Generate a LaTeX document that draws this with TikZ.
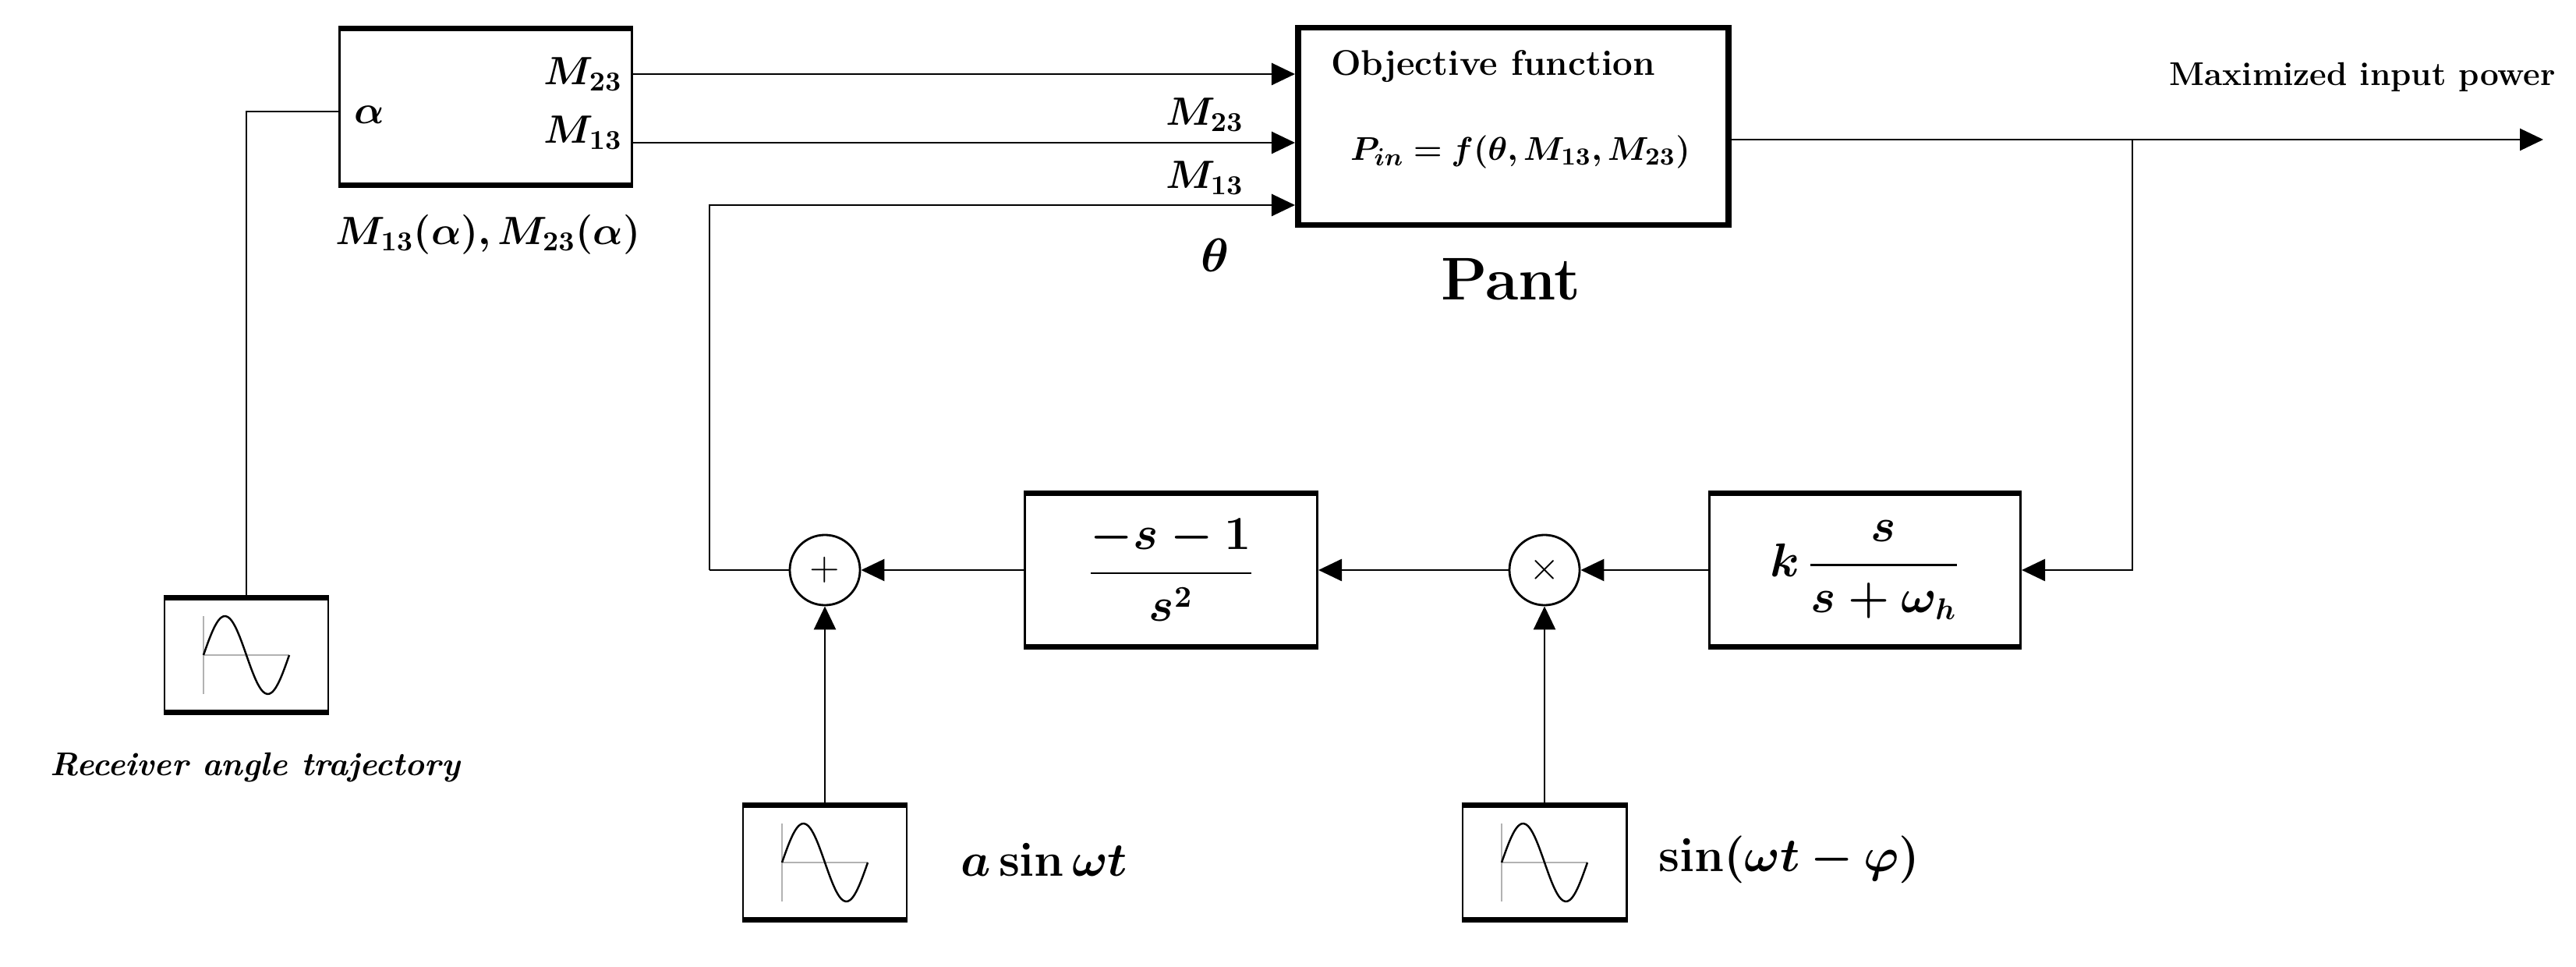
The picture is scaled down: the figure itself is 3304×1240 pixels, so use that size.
\documentclass[tikz,border=0pt]{standalone}
\usepackage{amsmath,bm}
\usetikzlibrary{arrows.meta,calc}
\begin{document}
\begin{tikzpicture}[x=0.01cm,y=-0.01cm,
 sum/.style={circle,draw,line width=0.8pt,minimum size=0.9cm,inner sep=0pt},
 sig/.style={line width=0.8pt},
 arr/.style={sig,-{Triangle[length=0.3cm,width=0.28cm]}},
 lbl/.style={font=\fontsize{14}{16}\selectfont\bfseries},
]
\useasboundingbox (0,0) rectangle (3304,1240);
% blocks
\node[draw,line width=0.8pt,minimum width=3.75cm,minimum height=1.98cm] (A) at (623,137) {};
\draw[line width=2pt] (A.north west) -- (A.north east) (A.south west) -- (A.south east);
\node[draw,line width=2.2pt,minimum width=5.52cm,minimum height=2.53cm] (O) at (1941,162) {};
\node[draw,line width=0.8pt,minimum width=3.75cm,minimum height=1.94cm] (F) at (1502,731) {};
\draw[line width=2pt] (F.north west) -- (F.north east) (F.south west) -- (F.south east);
\node[draw,line width=0.8pt,minimum width=3.99cm,minimum height=1.94cm] (K) at (2392,731) {};
\draw[line width=2pt] (K.north west) -- (K.north east) (K.south west) -- (K.south east);
\node[sum] (S) at (1058,731) {\Large$+$};
\node[sum] (X) at (1981,731) {\Large$\times$};
% sine sources
\foreach \n/\cx/\cy in {G1/316/840, G2/1058/1106, G3/1981/1106}{
  \node[draw,line width=0.8pt,minimum width=2.1cm,minimum height=1.45cm] (\n) at (\cx,\cy) {};
  \draw[line width=2pt] (\n.north west) -- (\n.north east) (\n.south west) -- (\n.south east);
  \draw[gray!60,line width=0.6pt] ($(\n.center)+(-55,-50)$) -- ($(\n.center)+(-55,50)$) ($(\n.center)+(-55,0)$) -- ($(\n.center)+(55,0)$);
  \draw[line width=0.7pt,domain=0:1,samples=40,smooth] plot ({\cx-55+110*\x},{\cy-50*sin(360*\x)});
}
% texts in blocks
\node[lbl] at (474,147) {$\bm{\alpha}$};
\node[lbl] at (748,95) {$\bm{M_{23}}$};
\node[lbl] at (748,170) {$\bm{M_{13}}$};
\node[lbl] at (626,301) {$\bm{M_{13}(\alpha),M_{23}(\alpha)}$};
\node[font=\fontsize{13}{15}\selectfont\bfseries] at (1915,85) {Objective function};
\node[font=\fontsize{13}{15}\selectfont\bfseries] at (1950,195) {$\bm{P_{in}=f(\theta,M_{13},M_{23})}$};
\node[font=\fontsize{22}{24}\selectfont\bfseries] at (1938,358) {Pant};
\node[lbl] at (1545,147) {$\bm{M_{23}}$};
\node[lbl] at (1545,228) {$\bm{M_{13}}$};
\node[font=\fontsize{17}{19}\selectfont] at (1559,327) {$\bm{\theta}$};
\node[font=\fontsize{12}{14}\selectfont\bfseries,anchor=east] at (3290,99) {Maximized input power};
\node[font=\fontsize{16}{18}\selectfont] at (1502,731) {$\bm{\dfrac{-s-1}{s^2}}$};
\node[font=\fontsize{16}{18}\selectfont] at (2392,731) {$\bm{k\,\dfrac{s}{s+\omega_h}}$};
\node[font=\fontsize{12}{14}\selectfont\bfseries\itshape] at (327,984) {Receiver angle trajectory};
\node[font=\fontsize{17}{19}\selectfont,anchor=west] at (1220,1102) {$\bm{a\sin\omega t}$};
\node[font=\fontsize{17}{19}\selectfont,anchor=west] at (2115,1102) {$\bm{\sin(\omega t-\varphi)}$};
% coordinates
\coordinate (out) at (3262,179);
\coordinate (br) at (2735,179);
\coordinate (fb) at (910,731);
% connectors
\draw[arr] (A.east |- 0,95) -- (O.west |- 0,95);
\draw[arr] (A.east |- 0,183) -- (O.west |- 0,183);
\draw[arr] (O.east |- out) -- (out);
\draw[arr] (br) |- (K.east);
\draw[arr] (K.west) -- (X.east);
\draw[arr] (X.west) -- (F.east);
\draw[arr] (F.west) -- (S.east);
\draw[sig] (S.west) -- (fb);
\draw[arr] (fb) |- (O.west |- 0,263);
\draw[arr] (G2.north) -- (S.south);
\draw[arr] (G3.north) -- (X.south);
\draw[sig] (G1.north) |- (A.west |- 0,143);
\end{tikzpicture}
\end{document}
